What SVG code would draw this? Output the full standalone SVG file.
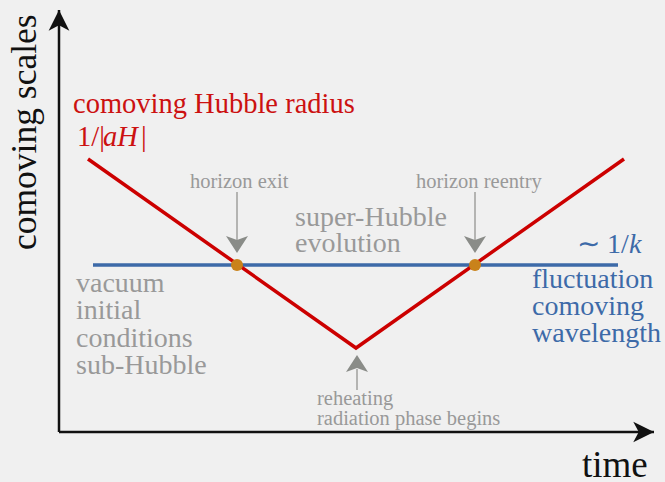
<svg xmlns="http://www.w3.org/2000/svg" width="665" height="482" viewBox="0 0 665 482">
  <defs>
    <marker id="axis-tip" markerUnits="userSpaceOnUse" markerWidth="24" markerHeight="24" viewBox="-20 -10 22 20" refX="0" refY="0" orient="auto">
      <path d="M0,0 L-19,-9.5 L-14,0 L-19,9.5 Z" fill="#111"/>
    </marker>
    <path id="pointer-head" d="M0,0 L-11,-17 L0,-13 L11,-17 Z" fill="#8a8c88"/>
  </defs>

  <rect width="665" height="482" fill="#f0f0f0"/>

  <!-- axes -->
  <g id="axes" stroke="#111" stroke-width="2.5" fill="none">
    <path d="M59,432 L59,10" marker-end="url(#axis-tip)"/>
    <path d="M59,432 L654,432" marker-end="url(#axis-tip)"/>
  </g>
  <text font-family="Liberation Serif" font-size="35.5" fill="#111" transform="translate(36,250) rotate(-90)">comoving scales</text>
  <text font-family="Liberation Serif" font-size="37" fill="#111" x="582" y="477">time</text>

  <!-- curves and pointers -->
  <g id="connectors">
    <line x1="93" y1="265" x2="618" y2="265" stroke="#3d6aa8" stroke-width="3.5"/>
    <polyline points="88,159 356,348 624,159" fill="none" stroke="#cc0000" stroke-width="3.5" stroke-linejoin="miter"/>
    <g stroke="#a0a19e" stroke-width="1.5">
      <line x1="237" y1="192" x2="237" y2="240"/>
      <line x1="475" y1="192" x2="475" y2="240"/>
      <line x1="357" y1="390" x2="357" y2="369"/>
    </g>
    <use href="#pointer-head" x="237" y="253"/>
    <use href="#pointer-head" x="475" y="253"/>
    <use href="#pointer-head" transform="translate(357,355) rotate(180)"/>
  </g>

  <g id="horizon-exit">
    <circle cx="237" cy="265" r="6" fill="#c9821a"/>
  </g>
  <text fill="#999999" font-family="Liberation Serif" font-size="20.5" x="190" y="188">horizon exit</text>

  <g id="horizon-reentry">
    <circle cx="475" cy="265" r="6" fill="#c9821a"/>
  </g>
  <text fill="#999999" font-family="Liberation Serif" font-size="20.5" x="416" y="188">horizon reentry</text>

  <text fill="#999999" font-family="Liberation Serif" font-size="20.5" x="317" y="405">reheating</text>
  <text fill="#999999" font-family="Liberation Serif" font-size="20.5" x="317" y="425">radiation phase begins</text>

  <text fill="#cc1111" font-family="Liberation Serif" font-size="28.5" x="73" y="113">comoving Hubble radius</text>
  <text fill="#cc1111" font-family="Liberation Serif" font-size="28.5" x="77" y="146">1/|</text>
  <text fill="#cc1111" font-family="Liberation Serif" font-size="28.5" font-style="italic" x="103" y="146">aH</text>
  <text fill="#cc1111" font-family="Liberation Serif" font-size="28.5" x="141" y="146">|</text>

  <text fill="#3d6aa8" font-family="Liberation Serif" font-size="28" x="577" y="253">∼ 1/</text>
  <text fill="#3d6aa8" font-family="Liberation Serif" font-size="28" font-style="italic" x="629" y="253">k</text>
  <text fill="#3d6aa8" font-family="Liberation Serif" font-size="28" x="532" y="288">fluctuation</text>
  <text fill="#3d6aa8" font-family="Liberation Serif" font-size="28" x="532" y="315">comoving</text>
  <text fill="#3d6aa8" font-family="Liberation Serif" font-size="28" x="532" y="342">wavelength</text>

  <text fill="#999999" font-family="Liberation Serif" font-size="28" x="295" y="226">super-Hubble</text>
  <text fill="#999999" font-family="Liberation Serif" font-size="28" x="295" y="252">evolution</text>

  <text fill="#999999" font-family="Liberation Serif" font-size="28" x="76" y="292">vacuum</text>
  <text fill="#999999" font-family="Liberation Serif" font-size="28" x="76" y="319">initial</text>
  <text fill="#999999" font-family="Liberation Serif" font-size="28" x="76" y="347">conditions</text>
  <text fill="#999999" font-family="Liberation Serif" font-size="28" x="76" y="374">sub-Hubble</text>
</svg>
